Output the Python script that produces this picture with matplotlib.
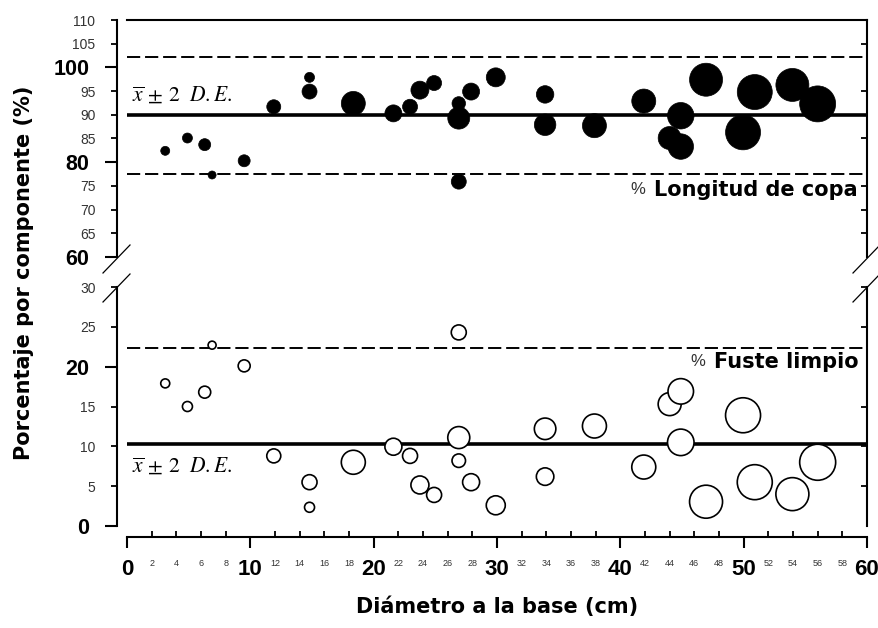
import matplotlib
matplotlib.use("Agg")
import matplotlib.pyplot as plt
from matplotlib.lines import Line2D

# ---------------- data ----------------
diametro = [3.1, 4.9, 6.3, 6.9, 9.5, 11.9, 14.8, 14.8, 18.35, 21.6,
            22.95, 23.75, 24.9, 26.9, 26.9, 26.9, 27.9, 29.9, 33.9, 33.9,
            37.9, 41.9, 44.0, 44.9, 44.9, 46.95, 49.95, 50.9, 53.95, 56.0]
longitud_copa = [82.4, 85.1, 83.7, 77.3, 80.3, 91.7, 97.9, 94.9, 92.4, 90.3,
                 91.7, 95.2, 96.7, 92.4, 89.3, 75.9, 94.9, 97.9, 94.3, 87.9,
                 87.7, 92.9, 85.1, 83.3, 89.8, 97.4, 86.3, 94.8, 96.3, 92.3]
fuste_limpio = [17.9, 15.0, 16.8, 22.7, 20.1, 8.8, 2.35, 5.5, 8.0, 9.95,
                8.8, 5.15, 3.9, 8.2, 11.1, 24.3, 5.5, 2.6, 6.2, 12.2,
                12.55, 7.4, 15.3, 16.9, 10.5, 3.05, 13.9, 5.5, 4.0, 8.0]
# relative bubble size (third variable encoded by marker diameter)
tamano = [9, 10, 12, 8, 12, 14, 10, 15, 24, 17,
          15, 18, 15, 13.5, 22, 15, 17, 19, 17.5, 21.5,
          24, 24, 23, 25.5, 26.5, 33, 35, 35, 33, 36]

copa_media, copa_inf, copa_sup = 90.0, 77.5, 102.1
fuste_media, fuste_sup = 10.3, 22.4

x_major = [0, 10, 20, 30, 40, 50, 60]
x_minor = [2, 4, 6, 8, 12, 14, 16, 18, 22, 24, 26, 28, 32, 34, 36, 38,
           42, 44, 46, 48, 52, 54, 56, 58]
yt_major = [60, 80, 100]
yt_minor = [65, 70, 75, 85, 90, 95, 105, 110]
yb_major = [0, 20]
yb_minor = [5, 10, 15, 25, 30]

# ---------------- figure ----------------
plt.rcParams['font.family'] = ['Liberation Sans', 'DejaVu Sans']
plt.rcParams['mathtext.fontset'] = 'stix'
plt.rcParams['lines.scale_dashes'] = False

W, H = 879, 628
PX = 0.72  # points per pixel at dpi 100
fig = plt.figure(figsize=(W / 100, H / 100), dpi=100)
fig.patch.set_facecolor('white')

ax_t = fig.add_axes([127 / W, 1 - 257 / H, 740 / W, (257 - 20) / H])
ax_b = fig.add_axes([127 / W, 1 - 526 / H, 740 / W, (526 - 287) / H])

spine_lw = 1.5
for ax in (ax_t, ax_b):
    ax.set_xlim(0, 60)
    for s in ax.spines.values():
        s.set_linewidth(spine_lw)
        s.set_color('black')
    ax.spines['left'].set_position(('outward', 10 * PX))

ax_t.set_ylim(60, 110)
ax_t.spines['bottom'].set_visible(False)
ax_t.set_xticks([])
ax_b.set_ylim(0, 30)
ax_b.spines['top'].set_visible(False)
ax_b.spines['bottom'].set_position(('outward', 11 * PX))

sizes = [(d * PX) ** 2 for d in tamano]

# reference lines
dash = (0, (9.5, 3.5))
ax_t.axhline(copa_media, color='black', lw=2.6, zorder=2)
ax_t.axhline(copa_sup, color='black', lw=1.4, ls=dash, zorder=2)
ax_t.axhline(copa_inf, color='black', lw=1.4, ls=dash, zorder=2)
ax_b.axhline(fuste_media, color='black', lw=2.6, zorder=2)
ax_b.axhline(fuste_sup, color='black', lw=1.4, ls=dash, zorder=2)

ax_t.scatter(diametro, longitud_copa, s=sizes, c='black', edgecolors='black',
             linewidths=0.5, zorder=3, clip_on=False)
ax_b.scatter(diametro, fuste_limpio, s=sizes, c='white', edgecolors='black',
             linewidths=1.2, zorder=3, clip_on=False)

# y ticks
def style_y(ax, major, minor):
    ax.set_yticks(major)
    ax.set_yticks(minor, minor=True)
    ax.set_yticklabels([str(v) for v in major])
    ax.set_yticklabels([str(v) for v in minor], minor=True)
    ax.tick_params(axis='y', which='major', direction='out', length=9,
                   width=1.5, pad=11, labelsize=15.5)
    ax.tick_params(axis='y', which='minor', direction='out', length=4,
                   width=1.3, pad=11.5, labelsize=10, labelcolor='#333333')
    for lab in ax.get_yticklabels():
        lab.set_fontweight('bold')
    tw = ax.twinx()
    tw.set_ylim(ax.get_ylim())
    tw.set_yticks(minor)
    tw.set_yticklabels([])
    tw.tick_params(axis='y', direction='in', length=4, width=1.3)
    for s in tw.spines.values():
        s.set_visible(False)
    tw.set_xticks([])

style_y(ax_t, yt_major, yt_minor)
style_y(ax_b, yb_major, yb_minor)

# x ticks
ax_b.set_xticks(x_major)
ax_b.set_xticks(x_minor, minor=True)
ax_b.set_xticklabels([str(v) for v in x_major])
ax_b.set_xticklabels([str(v) for v in x_minor], minor=True)
ax_b.tick_params(axis='x', which='major', direction='out', length=8, width=1.5,
                 pad=8, labelsize=16)
ax_b.tick_params(axis='x', which='minor', direction='in', length=4, width=1.3,
                 pad=16, labelsize=6.5, labelcolor='#333333')
for lab in ax_b.get_xticklabels():
    lab.set_fontweight('bold')

# annotations
formula = r'$\overline{x}\,\pm\,2\ \ D.E.$'
ax_t.text(0.4, 94.2, formula, fontsize=15.5, ha='left', va='center', zorder=4)
ax_b.text(0.4, 7.5, formula, fontsize=15.5, ha='left', va='center', zorder=4)

t1 = ax_t.text(59.2, 74.2, 'Longitud de copa', fontsize=15, fontweight='bold',
               family='DejaVu Sans', ha='right', va='center')
ax_t.annotate('%', xy=(0, 0.5), xycoords=t1, xytext=(-6, 0),
              textcoords='offset points', ha='right', va='center',
              fontsize=12, color='#333333')
t2 = ax_b.text(59.3, 20.6, 'Fuste limpio', fontsize=15, fontweight='bold',
               family='DejaVu Sans', ha='right', va='center')
ax_b.annotate('%', xy=(0, 0.5), xycoords=t2, xytext=(-6, 0),
              textcoords='offset points', ha='right', va='center',
              fontsize=12, color='#333333')

# axis labels
fig.text(24 / W, 1 - 273 / H, 'Porcentaje por componente (%)', rotation=90,
         ha='center', va='center', fontsize=15, fontweight='bold',
         family='DejaVu Sans')
fig.text(497 / W, 1 - 607 / H, 'Diámetro a la base (cm)', ha='center',
         va='center', fontsize=15, fontweight='bold', family='DejaVu Sans')

# axis-break marks
for (x0, y0, x1, y1) in [(103, 273, 130, 245), (103, 302, 130, 274),
                         (853, 273, 880, 245), (853, 302, 880, 274)]:
    fig.add_artist(Line2D([x0 / W, x1 / W], [1 - y0 / H, 1 - y1 / H],
                          transform=fig.transFigure, color='black', lw=0.9))

fig.savefig('out.png', dpi=100, facecolor='white')
